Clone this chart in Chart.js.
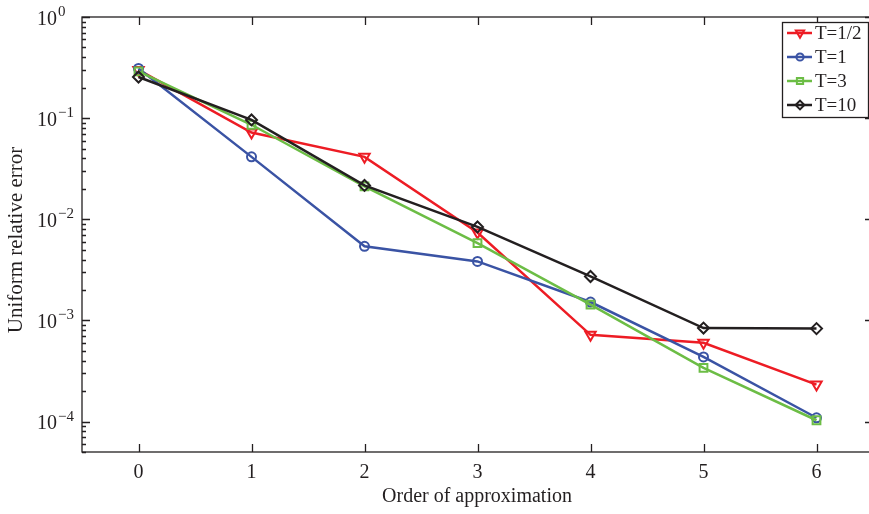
<!DOCTYPE html>
<html>
<head>
<meta charset="utf-8">
<script src="https://cdn.jsdelivr.net/npm/chart.js@4/dist/chart.umd.min.js"></script>
<style>
    html, body { margin: 0; padding: 0; background: #fff; overflow: hidden; }
    #errChart { display: block; width: 874px; height: 514px; }
</style>
</head>
<body>
<canvas id="errChart" width="874" height="514"></canvas>
<script>
// order of approximation on the x axis
const orders = [0, 1, 2, 3, 4, 5, 6];

// uniform relative error
const errHalf = [0.30, 0.072, 0.0414, 0.0074, 0.00072, 0.0006, 0.000232];
const errOne = [0.31, 0.0414, 0.0054, 0.00383, 0.00152, 0.000435, 0.000109];
const errThree = [0.29, 0.086, 0.0211, 0.0058, 0.00143, 0.00034, 0.000103];
const errTen = [0.255, 0.096, 0.0216, 0.0084, 0.00272, 0.00084, 0.00083];

const seriesNames = ['T=1/2', 'T=1', 'T=3', 'T=10'];
const xTicks = [0, 1, 2, 3, 4, 5, 6];
const yDecades = [0, -1, -2, -3, -4];

const FONT = '"Liberation Serif", "Times New Roman", serif';
const colors = ['#ed1c24', '#3a53a4', '#6cbd45', '#231f20'];

function toPoints(arr) {
    return orders.map((x, i) => ({ x: x, y: arr[i] }));
}

// axes box, inward ticks, tick labels, axis titles and legend
const matlabAxes = {
    id: 'matlabAxes',
    afterDraw(chart) {
        const ctx = chart.ctx;
        const { left, right, top, bottom } = chart.chartArea;
        const xs = chart.scales.x;
        const ys = chart.scales.y;

        ctx.save();
        ctx.strokeStyle = '#231f20';
        ctx.lineWidth = 1.3;
        ctx.strokeRect(left, top, right - left, bottom - top);

        // x ticks
        ctx.beginPath();
        xTicks.forEach(v => {
            const px = Math.round(xs.getPixelForValue(v)) + 0.5;
            ctx.moveTo(px, bottom); ctx.lineTo(px, bottom - 8);
            ctx.moveTo(px, top); ctx.lineTo(px, top + 8);
        });
        // y ticks, major and minor
        for (let d = -5; d <= 0; d++) {
            for (let m = 1; m <= 9; m++) {
                const v = m * Math.pow(10, d);
                if (v < ys.min || v > ys.max) continue;
                const py = Math.round(ys.getPixelForValue(v)) + 0.5;
                const len = m === 1 ? 8 : 4;
                ctx.moveTo(left, py); ctx.lineTo(left + len, py);
                ctx.moveTo(right, py); ctx.lineTo(right - len, py);
            }
        }
        ctx.stroke();

        ctx.fillStyle = '#231f20';
        // x tick labels
        ctx.font = '20px ' + FONT;
        ctx.textAlign = 'center';
        ctx.textBaseline = 'middle';
        xTicks.forEach(v => {
            ctx.fillText(String(v), xs.getPixelForValue(v), 473);
        });

        // y tick labels 10^k
        ctx.textAlign = 'left';
        ctx.textBaseline = 'alphabetic';
        yDecades.forEach(k => {
            const py = ys.getPixelForValue(Math.pow(10, k));
            ctx.font = '20px ' + FONT;
            ctx.fillText('10', 37, py + 7.5);
            const w = ctx.measureText('10').width;
            ctx.font = '15px ' + FONT;
            const exp = k < 0 ? '\u2212' + Math.abs(k) : String(k);
            ctx.fillText(exp, 37 + w + 1, py - 1);
        });

        // axis titles
        ctx.font = '20px ' + FONT;
        ctx.textAlign = 'center';
        ctx.textBaseline = 'middle';
        ctx.fillText('Order of approximation', 477, 497);
        ctx.save();
        ctx.translate(16, 240);
        ctx.rotate(-Math.PI / 2);
        ctx.font = '21px ' + FONT;
        ctx.fillText('Uniform relative error', 0, 0);
        ctx.restore();

        // legend
        const lx = 782, ly = 22, lw = 86, lh = 95;
        ctx.fillStyle = '#fff';
        ctx.fillRect(lx, ly, lw, lh);
        ctx.lineWidth = 1.3;
        ctx.strokeStyle = '#231f20';
        ctx.strokeRect(lx + 0.5, ly + 0.5, lw, lh);
        chart.data.datasets.forEach((ds, i) => {
            const cy = 33 + i * 24;
            ctx.strokeStyle = ds.borderColor;
            ctx.lineWidth = 2.5;
            ctx.beginPath();
            ctx.moveTo(787, cy); ctx.lineTo(812, cy);
            ctx.stroke();
            ctx.fillStyle = 'rgba(0,0,0,0)';
            ctx.lineWidth = 2;
            Chart.helpers.drawPoint(ctx, {
                pointStyle: ds.pointStyle,
                rotation: ds.pointRotation || 0,
                radius: ds.pointRadius * 0.8,
                borderWidth: 2
            }, 800, cy);
            ctx.fillStyle = '#231f20';
            ctx.font = '19px ' + FONT;
            ctx.textAlign = 'left';
            ctx.fillText(ds.label, 815, cy + 1);
        });
        ctx.restore();
    }
};

function series(label, values, color, style, radius, rotation, order) {
    return {
        label: label,
        data: toPoints(values),
        borderColor: color,
        backgroundColor: color,
        pointBorderColor: color,
        pointBackgroundColor: 'rgba(0,0,0,0)',
        borderWidth: 2.5,
        pointBorderWidth: 2,
        pointStyle: style,
        pointRadius: radius,
        pointRotation: rotation,
        tension: 0,
        order: order
    };
}

new Chart(document.getElementById('errChart'), {
    type: 'line',
    data: {
        datasets: [
            series(seriesNames[0], errHalf, colors[0], 'triangle', 6, 180, 4),
            series(seriesNames[1], errOne, colors[1], 'circle', 4.5, 0, 3),
            series(seriesNames[2], errThree, colors[2], 'rect', 5.5, 0, 2),
            series(seriesNames[3], errTen, colors[3], 'rectRot', 5.5, 0, 1)
        ]
    },
    options: {
        responsive: false,
        maintainAspectRatio: false,
        animation: false,
        layout: {
            autoPadding: false,
            padding: { left: 82, top: 17, right: 1, bottom: 62 }
        },
        plugins: {
            legend: { display: false },
            tooltip: { enabled: false }
        },
        scales: {
            x: { type: 'linear', min: -0.5, max: 6.5, display: false },
            y: { type: 'logarithmic', min: 5e-5, max: 1, display: false }
        }
    },
    plugins: [matlabAxes]
});
</script>
</body>
</html>
